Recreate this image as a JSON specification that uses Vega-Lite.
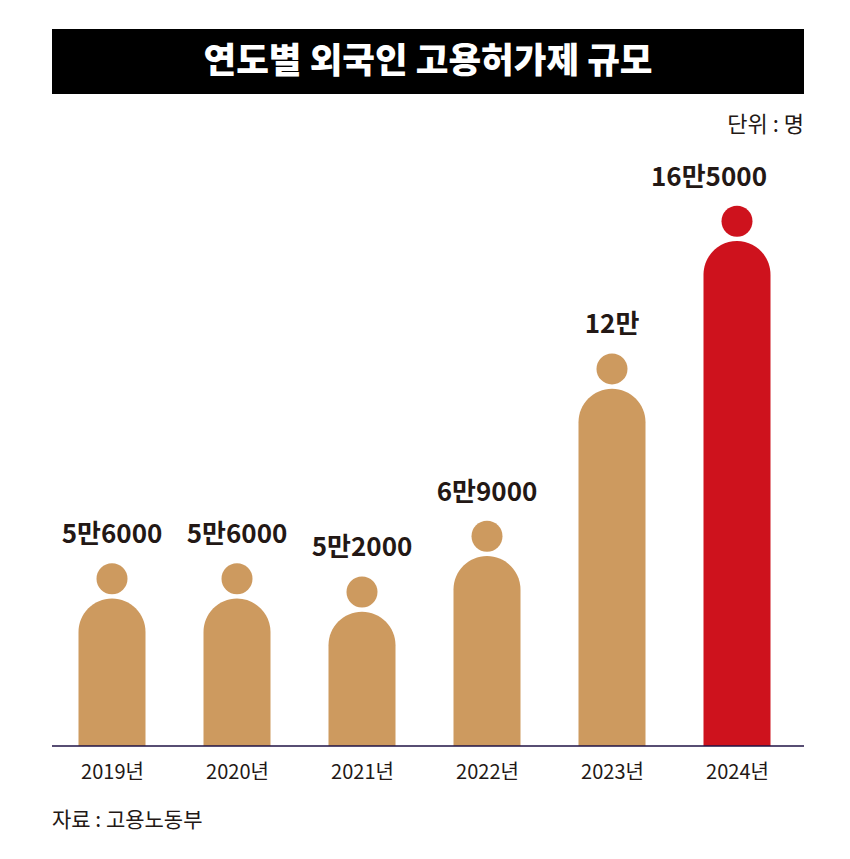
{"$schema":"https://vega.github.io/schema/vega-lite/v6.json","width":752,"height":717,"autosize":"none","padding":{"left":52,"top":29,"right":46,"bottom":113},"background":"white","config":{"font":"Noto Sans CJK KR","view":{"stroke":null}},"datasets":{"workers":[{"year":"2019년","workers":56000,"label":"5만6000","group":"past"},{"year":"2020년","workers":56000,"label":"5만6000","group":"past"},{"year":"2021년","workers":52000,"label":"5만2000","group":"past"},{"year":"2022년","workers":69000,"label":"6만9000","group":"past"},{"year":"2023년","workers":120000,"label":"12만","group":"past"},{"year":"2024년","workers":165000,"label":"16만5000","group":"current"}],"notes":[{"text":"연도별 외국인 고용허가제 규모","pos":0.5,"level":208500,"kind":"head"},{"text":"단위 : 명","pos":1,"level":189200,"kind":"unit"},{"text":"자료 : 고용노동부","pos":0,"level":-22870,"kind":"source"}]},"layer":[{"data":{"values":[{"top":218600,"bottom":198780}]},"mark":{"type":"rect","color":"#000000"},"encoding":{"y":{"field":"top","type":"quantitative","scale":{"domain":[0,218600],"nice":false},"axis":null},"y2":{"field":"bottom"}}},{"data":{"name":"workers"},"mark":{"type":"bar","width":67,"cornerRadiusTopLeft":33.5,"cornerRadiusTopRight":33.5,"yOffset":36.3,"y2Offset":0},"encoding":{"x":{"field":"year","type":"ordinal","scale":{"type":"point","range":[60,685],"padding":0},"axis":{"title":null,"labelAngle":0,"ticks":false,"domain":false,"labelFontSize":20,"labelColor":"#231815","labelPadding":16}},"y":{"field":"workers","type":"quantitative"},"y2":{"datum":0},"color":{"field":"group","type":"nominal","scale":{"domain":["past","current"],"range":["#CD9A5F","#CE121D"]},"legend":null}}},{"data":{"name":"workers"},"mark":{"type":"point","filled":true,"opacity":1,"size":961,"shape":"circle","yOffset":16.5},"encoding":{"x":{"field":"year","type":"ordinal","scale":{"type":"point","range":[60,685],"padding":0},"axis":null},"y":{"field":"workers","type":"quantitative"},"color":{"field":"group","type":"nominal","legend":null}}},{"data":{"name":"workers"},"transform":[{"filter":"datum.group==='past'"}],"mark":{"type":"text","fontSize":26,"fontWeight":"bold","color":"#231815","baseline":"middle","yOffset":-27},"encoding":{"x":{"field":"year","type":"ordinal","scale":{"type":"point","domain":["2019년","2020년","2021년","2022년","2023년","2024년"],"range":[60,685],"padding":0},"axis":null},"y":{"field":"workers","type":"quantitative"},"text":{"field":"label"}}},{"data":{"name":"workers"},"transform":[{"filter":"datum.group==='current'"}],"mark":{"type":"text","fontSize":26,"fontWeight":"bold","color":"#231815","baseline":"middle","yOffset":-27,"xOffset":-28},"encoding":{"x":{"field":"year","type":"ordinal","scale":{"type":"point","domain":["2019년","2020년","2021년","2022년","2023년","2024년"],"range":[60,685],"padding":0},"axis":null},"y":{"field":"workers","type":"quantitative"},"text":{"field":"label"}}},{"data":{"values":[{"base":0}]},"mark":{"type":"rule","color":"#1F1244","strokeWidth":1.5},"encoding":{"y":{"field":"base","type":"quantitative"}}},{"data":{"name":"notes"},"transform":[{"filter":"datum.kind==='head'"}],"mark":{"type":"text","fontSize":35.5,"fontWeight":900,"color":"#ffffff","baseline":"middle"},"encoding":{"y":{"field":"level","type":"quantitative"},"text":{"field":"text"}}},{"data":{"name":"notes"},"transform":[{"filter":"datum.kind==='unit'"}],"mark":{"type":"text","fontSize":22,"color":"#231815","align":"right","baseline":"middle"},"encoding":{"x":{"field":"pos","type":"quantitative","scale":{"domain":[0,1]},"axis":null},"y":{"field":"level","type":"quantitative"},"text":{"field":"text"}}},{"data":{"name":"notes"},"transform":[{"filter":"datum.kind==='source'"}],"mark":{"type":"text","fontSize":21,"color":"#231815","align":"left","baseline":"middle"},"encoding":{"x":{"field":"pos","type":"quantitative","scale":{"domain":[0,1]},"axis":null},"y":{"field":"level","type":"quantitative"},"text":{"field":"text"}}}],"resolve":{"scale":{"x":"independent"}}}
